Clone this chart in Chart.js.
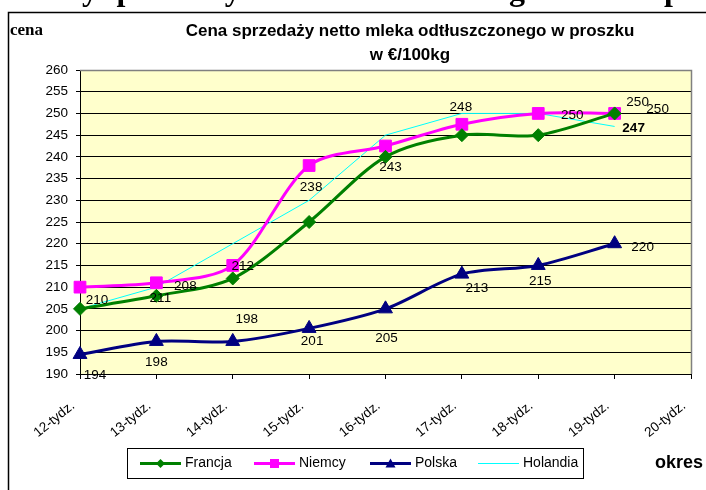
<!DOCTYPE html>
<html><head><meta charset="utf-8">
<script src="https://cdn.jsdelivr.net/npm/chart.js@4.4.0/dist/chart.umd.min.js"></script>
<style>html,body{margin:0;padding:0;background:#fff;} canvas{display:block}</style>
</head><body><canvas id="c" width="706" height="490"></canvas>
<script>
// ---- data ----
const categories = ['12-tydz.','13-tydz.','14-tydz.','15-tydz.','16-tydz.','17-tydz.','18-tydz.','19-tydz.','20-tydz.'];
const francja  = [205, 208, 212, 225, 240, 245, 245, 250, null];
const niemcy   = [210, 211, 215, 238, 242.5, 247.5, 250, 250, null];
const polska   = [194.5, 197.5, 197.5, 200.5, 205, 213, 215, 220, null];
const holandia = [205, 210, 220, 230, 245, 250, 250, 247, null];
const yMin = 190, yMax = 260, yStep = 5;
// value labels as printed on the chart
const francjaLabels  = [null, '211', null, null, '243', null, null, '250', null];
const niemcyLabels   = ['210', '208', '212', '238', null, null, '250', '250', null];
const polskaLabels   = ['194', '198', '198', '201', '205', '213', '215', '220', null];
const holandiaLabels = [null, null, null, null, null, '248', null, '247', null];
const seriesNames = ['Francja', 'Niemcy', 'Polska', 'Holandia'];
const titleLines = ['Cena sprzedaży netto mleka odtłuszczonego w proszku', 'w €/100kg'];
const yAxisTitle = 'cena';
const xAxisTitle = 'okres';
const headerWords = ['ceny', 'sprzedaży', 'mleka', 'odtłuszczonego', 'w', 'proszku'];

// ---- label placement (offsets from the point, in px) ----
const labelOffsets = [
  {1:[4,2], 4:[5,10], 7:[43,-4]},
  {0:[17,13], 1:[29,3], 2:[10,1], 3:[2,22], 6:[34,2], 7:[23,-11]},
  {0:[15,21], 1:[0,21], 2:[14,-22], 3:[3,13], 4:[1,29], 5:[15,14], 6:[2,16], 7:[28,4]},
  {5:[-1,-6], 7:[19,2]}
];
const boldLabels = {3:{7:true}};
const allLabels = [francjaLabels, niemcyLabels, polskaLabels, holandiaLabels];
const SANS = '"Liberation Sans", Arial, sans-serif';
const SERIF = '"Liberation Serif", "Times New Roman", serif';

function drawMarker(ctx, style, x, y, r, color){
  ctx.save(); ctx.fillStyle = color; ctx.beginPath();
  if (style === 'rectRot'){ ctx.moveTo(x, y-r); ctx.lineTo(x+r, y); ctx.lineTo(x, y+r); ctx.lineTo(x-r, y); }
  else if (style === 'rect'){ ctx.rect(x-r, y-r, 2*r, 2*r); }
  else if (style === 'triangle'){ ctx.moveTo(x, y-r); ctx.lineTo(x+r, y+r*0.8); ctx.lineTo(x-r, y+r*0.8); }
  ctx.closePath(); ctx.fill(); ctx.restore();
}

const deco = {
  id: 'deco',
  beforeDraw(chart){
    const {ctx, chartArea:a} = chart;
    ctx.save();
    ctx.fillStyle = '#fff'; ctx.fillRect(0,0,chart.width,chart.height);
    ctx.fillStyle = '#FFFFCC'; ctx.fillRect(a.left, a.top, a.right-a.left, a.bottom-a.top);
    // outer frame
    ctx.strokeStyle = '#000'; ctx.lineWidth = 1.5;
    ctx.beginPath(); ctx.moveTo(8.5, 600); ctx.lineTo(8.5, 12.5); ctx.lineTo(800, 12.5); ctx.stroke();
    // header text (cut off at top)
    ctx.fillStyle = '#000'; ctx.font = 'bold 32px ' + SERIF; ctx.textBaseline = 'alphabetic';
    ctx.textAlign = 'right'; ctx.fillText(headerWords[0], 98, 0);
    ctx.textAlign = 'left';  ctx.fillText(headerWords[1], 104, 0);
    ctx.fillText(headerWords[2], 250, 0);
    ctx.textAlign = 'right'; ctx.fillText(headerWords[3], 541, 0);
    ctx.textAlign = 'left';  ctx.fillText(headerWords[4], 590, 0);
    ctx.fillText(headerWords[5], 664, 0);
    // title
    ctx.font = 'bold 17px ' + SANS; ctx.textAlign = 'center'; ctx.textBaseline = 'middle';
    ctx.fillText(titleLines[0], 410, 31);
    ctx.fillText(titleLines[1], 410, 55);
    // axis titles
    ctx.font = 'bold 17px ' + SERIF; ctx.textAlign = 'left';
    ctx.fillText(yAxisTitle, 10, 31);
    ctx.font = 'bold 18px ' + SANS;
    ctx.fillText(xAxisTitle, 655, 463);
    ctx.restore();
  },
  beforeDatasetsDraw(chart){
    const {ctx, chartArea:a} = chart;
    ctx.save(); ctx.strokeStyle = '#808080'; ctx.lineWidth = 1.5;
    ctx.beginPath(); ctx.moveTo(a.left, a.top+0.5); ctx.lineTo(a.right+0.5, a.top+0.5); ctx.lineTo(a.right+0.5, a.bottom); ctx.stroke();
    ctx.restore();
  },
  afterDatasetsDraw(chart){
    const ctx = chart.ctx;
    ctx.save(); ctx.fillStyle = '#000'; ctx.textAlign = 'center'; ctx.textBaseline = 'middle';
    allLabels.forEach((labs, di) => {
      const meta = chart.getDatasetMeta(di);
      labs.forEach((t, i) => {
        if (!t) return;
        const p = meta.data[i]; const off = labelOffsets[di][i] || [0,0];
        ctx.font = ((boldLabels[di] && boldLabels[di][i]) ? 'bold ' : '') + '13.5px ' + SANS;
        ctx.fillText(t, p.x + off[0], p.y + off[1]);
      });
    });
    ctx.restore();
  },
  afterDraw(chart){
    // legend
    const ctx = chart.ctx;
    ctx.save();
    ctx.strokeStyle = '#000'; ctx.lineWidth = 1;
    ctx.strokeRect(127.5, 448.5, 456, 30);
    const starts = [140, 254, 370, 478];
    const mk = [4.5, 4.5, 5, 0];
    chart.data.datasets.forEach((ds, i) => {
      const x0 = starts[i], y = 463.5;
      ctx.strokeStyle = ds.borderColor; ctx.lineWidth = ds.borderWidth;
      ctx.beginPath(); ctx.moveTo(x0, y); ctx.lineTo(x0+41, y); ctx.stroke();
      if (ds.pointRadius > 0) drawMarker(ctx, ds.pointStyle, x0+20.5, y, mk[i], ds.borderColor);
      ctx.fillStyle = '#000'; ctx.font = '14px ' + SANS; ctx.textAlign = 'left'; ctx.textBaseline = 'middle';
      ctx.fillText(ds.label, x0+45, y);
    });
    ctx.restore();
  }
};

new Chart(document.getElementById('c'), {
  type: 'line',
  data: {
    labels: categories,
    datasets: [
      {label: seriesNames[0], data: francja, borderColor:'#008000', backgroundColor:'#008000', borderWidth:3,
       pointStyle:'rectRot', pointRadius:6.5, pointBorderWidth:1, pointBorderColor:'#008000', tension:0.3, clip:false},
      {label: seriesNames[1], data: niemcy, borderColor:'#FF00FF', backgroundColor:'#FF00FF', borderWidth:3,
       pointStyle:'rect', pointRadius:8.3, pointBorderWidth:1, pointBorderColor:'#FF00FF', tension:0.3, clip:false},
      {label: seriesNames[2], data: polska, borderColor:'#000080', backgroundColor:'#000080', borderWidth:3,
       pointStyle:'triangle', pointRadius:8, pointBorderWidth:1, pointBorderColor:'#000080', tension:0.3, clip:false},
      {label: seriesNames[3], data: holandia, borderColor:'#00FFFF', backgroundColor:'#00FFFF', borderWidth:1,
       pointRadius:0, tension:0, clip:false}
    ]
  },
  options: {
    responsive: false, animation: false, events: [],
    layout: {autoPadding: false, padding: {top: 70, right: 15, bottom: 41, left: 0}},
    plugins: {legend: {display: false}, tooltip: {enabled: false}, title: {display: false}},
    scales: {
      x: {
        offset: false,
        grid: {drawOnChartArea: false, drawTicks: true, tickLength: 5, color: '#000', tickColor: '#000'},
        border: {color: '#000', width: 1},
        ticks: {color: '#000', font: {family: SANS, size: 13.5}, minRotation: 39, maxRotation: 39, autoSkip: false, padding: 19, labelOffset: -7},
        afterFit: s => { s.height = 75; s.paddingLeft = 0; s.paddingRight = 0; }
      },
      y: {
        min: yMin, max: yMax,
        grid: {color: c => (c.tick && c.tick.value === yMax) ? '#808080' : '#000', tickColor: '#000', tickLength: 4, lineWidth: 1},
        border: {color: '#000', width: 1},
        ticks: {stepSize: yStep, color: '#000', font: {family: SANS, size: 13.5}, padding: 8},
        afterFit: s => { s.width = 80; s.paddingTop = 0; s.paddingBottom = 0; }
      }
    }
  },
  plugins: [deco]
});
</script>
</body></html>
